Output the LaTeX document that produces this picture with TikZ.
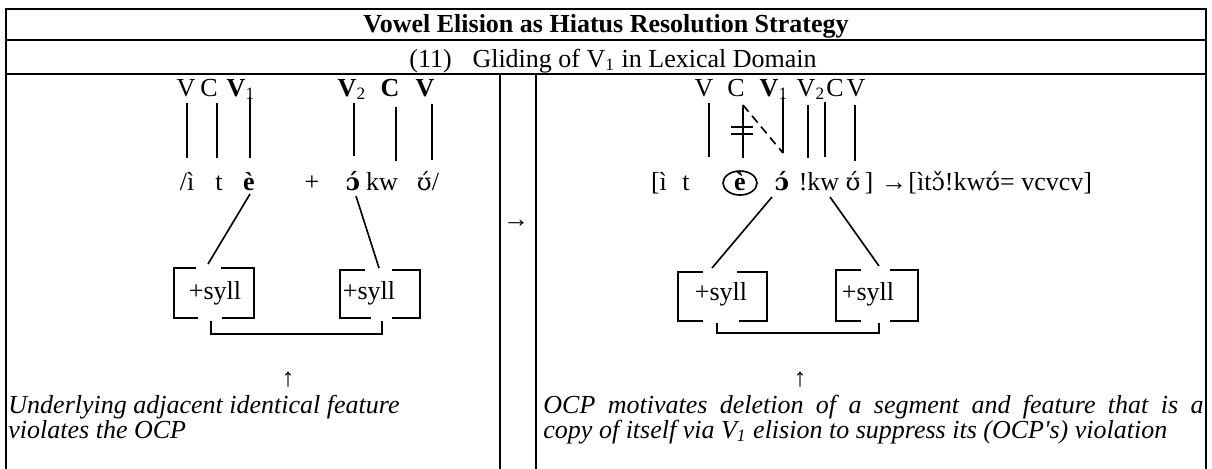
\documentclass[tikz,border=0pt]{standalone}
\usepackage{fontspec}
\setmainfont{Liberation Serif}
\newfontfamily\ipa[Scale=0.92]{DejaVu Serif}
\begin{document}
\begin{tikzpicture}[x=0.4615pt,y=-0.4615pt,
  tbl/.style={line width=1pt},
  assoc/.style={line width=0.75pt},
  brk/.style={line width=0.9pt},
  txt/.style={inner sep=0pt, anchor=base, font=\fontsize{12}{14}\selectfont},
  txtw/.style={inner sep=0pt, anchor=base west, font=\fontsize{12}{14}\selectfont},
  note/.style={inner sep=0pt, anchor=base west, font=\fontsize{12}{14}\selectfont\itshape}]
\useasboundingbox (0,0) rectangle (1212,468);
% ---------- table ----------
\draw[tbl] (6,470) -- (6,9) -- (1206,9) -- (1206,470);
\draw[tbl] (6,40) -- (1206,40);
\draw[tbl] (6,74) -- (1206,74);
\draw[tbl] (500,74) -- (500,470);
\draw[tbl] (536,74) -- (536,470);
\node[txt, font=\fontsize{12}{14}\selectfont\bfseries] (title) at (606,32) {Vowel Elision as Hiatus Resolution Strategy};
\node[txt] (subtitle) at (613,67) {(11)\hspace{0.8em}Gliding of V\textsubscript{1} in Lexical Domain};
% ---------- left panel: skeleton ----------
\node[txt] (lV) at (186,96) {V};
\node[txt] (lC) at (209,96) {C};
\node[txt] (lV1) at (241,96) {\textbf{V}\textsubscript{1}};
\node[txt] (lV2) at (352,96) {\textbf{V}\textsubscript{2}};
\node[txt] (lC2) at (390,96) {\textbf{C}};
\node[txt] (lV3) at (425,96) {\textbf{V}};
\foreach \n/\x/\t/\b in {a/187/103/158, b/217/103/158, c/250/97/158, d/354/103/156, e/396/107/161, f/432/104/160}{
  \coordinate (l\n t) at (\x,\t);
  \coordinate (l\n b) at (\x,\b);
  \draw[assoc] (l\n t) -- (l\n b);
}
% ---------- left panel: segments ----------
\node[txt] (ls1) at (187,190) {/ì};
\node[txt] (ls2) at (219,190) {t};
\node[txt] (ls3) at (249,190) {\textbf{è}};
\node[txt] (ls4) at (312,190) {+};
\node[txt] (ls5) at (353,190) {{\ipa\bfseries ɔ́}};
\node[txt] (ls6) at (382,190) {kw};
\node[txt] (ls7) at (428,190) {{\ipa ʊ́}/};
\coordinate (lp1) at (250,194);
\coordinate (lq1) at (208,264);
\coordinate (lp2) at (356,196);
\coordinate (lq2) at (379,268);
\draw[assoc] (lp1) -- (lq1);
\draw[assoc] (lp2) -- (lq2);
% left boxes
\node[txt] (lsyll1) at (215,299) {+syll};
\node[txt] (lsyll2) at (369,299) {+syll};
\draw[brk] (196,268) -| (174,318) -- (198,318);
\draw[brk] (221,268) -| (254,318) -- (222,318);
\draw[brk] (365,270) -| (340,318) -- (371,318);
\draw[brk] (392,270) -| (420,318) -- (392,318);
\coordinate (lk1) at (211,321);
\coordinate (lk2) at (382,321);
\draw[brk] (lk1) |- (296,334) -| (lk2);
\node[txt] (lup) at (288,386) {↑};
\node[note] (lnote1) at (8,413) {Underlying adjacent identical feature};
\node[note] (lnote2) at (8,438) {violates the OCP};
% middle arrow
\node[txt] (mid) at (516,227) {→};
% ---------- right panel: skeleton ----------
\node[txt] (rV) at (704,96) {V};
\node[txt] (rC) at (736,96) {C};
\node[txt] (rV1) at (774,96) {\textbf{V}\textsubscript{1}};
\node[txt] (rV2) at (811,96) {V\textsubscript{2}};
\node[txt] (rC2) at (835,96) {C};
\node[txt] (rV3) at (856,96) {V};
\foreach \n/\x/\t/\b in {a/709/103/157, b/743/105/158, c/783/97/153, d/808/105/158, e/825/102/157, f/855/105/161}{
  \coordinate (r\n t) at (\x,\t);
  \coordinate (r\n b) at (\x,\b);
}
\draw[assoc] (rat) -- (rab);
\draw[assoc] (rbt) -- (rbb);
\draw[assoc] (rct) -- (rcb);
\draw[assoc] (rdt) -- (rdb);
\draw[assoc] (ret) -- (reb);
\draw[assoc] (rft) -- (rfb);
\coordinate (rx1) at (731,127); \coordinate (rx2) at (753,127);
\coordinate (rx3) at (731,134); \coordinate (rx4) at (753,134);
\draw[assoc] (rx1) -- (rx2);
\draw[assoc] (rx3) -- (rx4);
\draw[assoc, dash pattern=on 4pt off 2.5pt] (rbt) -- (rcb);
% ---------- right panel: segments ----------
\node[txt] (rs1) at (659,190) {[ì};
\node[txt] (rs2) at (686,190) {t};
\node[txt] (rs3) at (740,190) {\textbf{è}};
\draw[assoc] (740,183) ellipse [x radius=17, y radius=12];
\node[txt] (rs4) at (782,190) {{\ipa\bfseries ɔ́}};
\node[txt] (rs5) at (819,190) {!kw};
\node[txt] (rs6) at (853,190) {{\ipa ʊ́}};
\node[txt] (rs7) at (869,190) {]};
\node[txt] (rs8) at (894,190) {→};
\node[txtw] (rs9) at (908,190) {[ìt{\ipa ɔ̌}!kw{\ipa ʊ́}= vcvcv]};
\coordinate (rp1) at (772,197);
\coordinate (rq1) at (712,268);
\coordinate (rp2) at (830,197);
\coordinate (rq2) at (879,266);
\draw[assoc] (rp1) -- (rq1);
\draw[assoc] (rp2) -- (rq2);
% right boxes
\node[txt] (rsyll1) at (721,300) {+syll};
\node[txt] (rsyll2) at (868,300) {+syll};
\draw[brk] (703,272) -| (678,321) -- (703,321);
\draw[brk] (737,272) -| (767,321) -- (739,321);
\draw[brk] (861,270) -| (836,321) -- (861,321);
\draw[brk] (890,270) -| (918,321) -- (890,321);
\coordinate (rk1) at (717,323);
\coordinate (rk2) at (879,323);
\draw[brk] (rk1) |- (798,333) -| (rk2);
\node[txt] (rup) at (800,386) {↑};
\node[note] (rnote1) at (543,413) {\makebox[304.6pt][s]{OCP motivates deletion of a segment and feature that is a}};
\node[note] (rnote2) at (543,438) {copy of itself via V\textsubscript{1} elision to suppress its (OCP{\addfontfeatures{Ligatures=TeXOff}'}s) violation};
\end{tikzpicture}
\end{document}
